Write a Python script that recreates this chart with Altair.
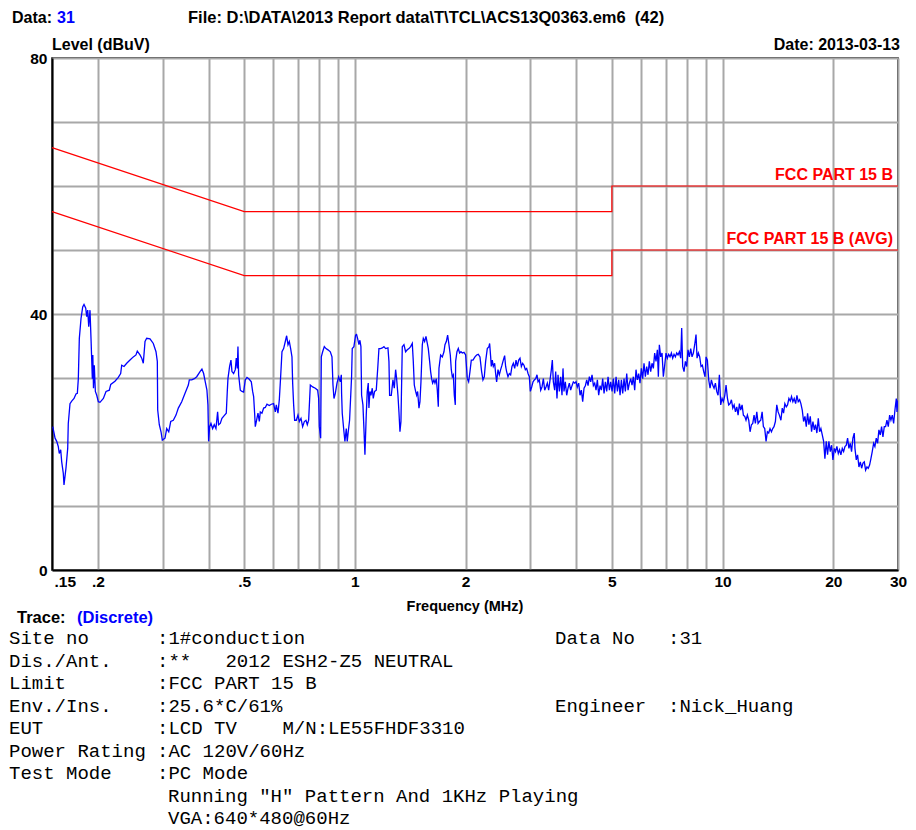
import altair as alt
import pandas as pd

# ---------------- data ----------------
FREQ_MHZ = [
    0.1507, 0.1529, 0.1545, 0.1560, 0.1570, 0.1584, 0.1594, 0.1610, 0.1617, 0.1627,
    0.1637, 0.1655, 0.1661, 0.1679, 0.1697, 0.1722, 0.1743, 0.1758, 0.1769, 0.1780,
    0.1799, 0.1818, 0.1833, 0.1853, 0.1864, 0.1876, 0.1888, 0.1903, 0.1915, 0.1931,
    0.1937, 0.1945, 0.1955, 0.1968, 0.1985, 0.2005, 0.2026, 0.2069, 0.2104, 0.2148,
    0.2167, 0.2225, 0.2272, 0.2306, 0.2321, 0.2355, 0.2395, 0.2445, 0.2496, 0.2538,
    0.2559, 0.2603, 0.2631, 0.2657, 0.2686, 0.2714, 0.2771, 0.2829, 0.2877, 0.2901,
    0.2908, 0.2937, 0.2969, 0.2993, 0.3044, 0.3077, 0.3116, 0.3155, 0.3207, 0.3261,
    0.3309, 0.3380, 0.3451, 0.3523, 0.3545, 0.3599, 0.3658, 0.3713, 0.3791,
    0.3836, 0.3877, 0.3917, 0.3958, 0.3983, 0.4000, 0.4025, 0.4059, 0.4102, 0.4144,
    0.4188, 0.4232, 0.4258, 0.4303, 0.4348, 0.4422, 0.4468, 0.4496, 0.4515, 0.4562,
    0.4601, 0.4630, 0.4678, 0.4727, 0.4757, 0.4787, 0.4807, 0.4827, 0.4878, 0.4929,
    0.4980, 0.5033, 0.5086, 0.5160, 0.5226, 0.5270, 0.5303, 0.5336, 0.5358, 0.5403,
    0.5449, 0.5495, 0.5529, 0.5587, 0.5646, 0.5705, 0.5765, 0.5850, 0.5923, 0.6010,
    0.6074, 0.6112, 0.6176, 0.6228, 0.6280, 0.6333, 0.6399, 0.6466, 0.6521, 0.6576,
    0.6631, 0.6686, 0.6742, 0.6771, 0.6813, 0.6856, 0.6928, 0.7001, 0.7060, 0.7134,
    0.7208, 0.7284, 0.7360, 0.7422, 0.7484, 0.7563, 0.7674, 0.7804, 0.7918, 0.7968,
    0.8002, 0.8069, 0.8102, 0.8170, 0.8256, 0.8343, 0.8448, 0.8572, 0.8662, 0.8716,
    0.8771, 0.8845, 0.8938, 0.9031, 0.9126, 0.9183,
    0.9199, 0.9237, 0.9335, 0.9393, 0.9472, 0.9531, 0.9591, 0.9671, 0.9732, 0.9793,
    0.9834, 0.9937, 1.0042, 1.0105, 1.0168, 1.0254, 1.0318, 1.0383, 1.0427, 1.0514,
    1.0580, 1.0647, 1.0735, 1.0803, 1.0871, 1.0917, 1.0986, 1.1055, 1.1147, 1.1217,
    1.1312, 1.1430, 1.1550, 1.1623, 1.1745, 1.1868, 1.1993, 1.2119, 1.2298, 1.2375,
    1.2427, 1.2557, 1.2689, 1.2796, 1.2903, 1.2984, 1.3093, 1.3175, 1.3258, 1.3341,
    1.3453, 1.3594, 1.3737, 1.3881, 1.4027, 1.4174, 1.4323, 1.4413, 1.4504, 1.4625,
    1.4717, 1.4810, 1.4934, 1.5028, 1.5123, 1.5250, 1.5345, 1.5474, 1.5604, 1.5735,
    1.5834, 1.5967, 1.6066, 1.6167, 1.6269, 1.6405, 1.6509, 1.6647, 1.6752, 1.6857,
    1.6928, 1.7105, 1.7285, 1.7466, 1.7576, 1.7724, 1.7872, 1.8022, 1.8173, 1.8287,
    1.8402, 1.8518, 1.8634, 1.8751, 1.8790, 1.8948, 1.9107, 1.9267, 1.9429, 1.9592,
    1.9797, 2.0005, 2.0215, 2.0384, 2.0555, 2.0727, 2.0945, 2.1209, 2.1431, 2.1656,
    2.1883, 2.2112, 2.2297, 2.2484, 2.2673, 2.2910, 2.3151,
    2.325, 2.340, 2.349, 2.364, 2.379, 2.399, 2.414, 2.429, 2.450, 2.470,
    2.491, 2.512, 2.533, 2.554, 2.570, 2.586, 2.608, 2.630, 2.652, 2.674,
    2.697, 2.720, 2.743, 2.765, 2.789, 2.812, 2.836, 2.859, 2.883, 2.908,
    2.932, 2.957, 2.981, 3.000, 3.025, 3.051, 3.076, 3.102, 3.128, 3.148,
    3.174, 3.201, 3.227, 3.255, 3.282, 3.309, 3.337, 3.365, 3.394, 3.422,
    3.443, 3.465, 3.494, 3.516, 3.545, 3.568, 3.598, 3.628, 3.658, 3.681,
    3.704, 3.735, 3.767, 3.798, 3.830, 3.862, 3.895, 3.927, 3.960, 3.994,
    4.027, 4.061, 4.095, 4.129, 4.164, 4.199, 4.234, 4.270, 4.306, 4.342,
    4.378, 4.415, 4.452, 4.489, 4.527, 4.565, 4.603, 4.642, 4.681, 4.720,
    4.760, 4.800, 4.840, 4.881, 4.922, 4.963, 5.005, 5.047, 5.089, 5.132,
    5.175, 5.218, 5.262, 5.306, 5.350, 5.395, 5.440, 5.486, 5.532,
    5.578, 5.624, 5.671, 5.719, 5.767, 5.815, 5.864, 5.913, 5.962, 6.013,
    6.063, 6.114, 6.165, 6.217, 6.269, 6.321, 6.374, 6.428, 6.482, 6.536,
    6.591, 6.647, 6.688, 6.730, 6.787, 6.844, 6.901, 6.959, 7.017, 7.076,
    7.135, 7.195, 7.256, 7.317, 7.378, 7.440, 7.502, 7.565, 7.629, 7.693,
    7.741, 7.789, 7.855, 7.921, 7.987, 8.054, 8.122, 8.190, 8.259, 8.328,
    8.398, 8.468, 8.522, 8.593, 8.665, 8.738, 8.812, 8.885, 8.960, 9.017,
    9.092, 9.169, 9.245, 9.323, 9.401, 9.480, 9.560, 9.640, 9.721, 9.802,
    9.884, 9.968, 10.05, 10.14, 10.22, 10.31, 10.39, 10.48, 10.57, 10.66,
    10.75, 10.84, 10.93, 11.02, 11.11, 11.20, 11.30, 11.39, 11.49, 11.58,
    11.68, 11.78, 11.88, 11.98, 12.08, 12.18, 12.28, 12.39, 12.49, 12.59,
    12.70, 12.81, 12.91, 13.02, 13.13, 13.24, 13.35, 13.46, 13.58, 13.69,
    13.80, 13.92, 14.04, 14.16, 14.27,
    14.41, 14.53, 14.65, 14.77, 14.90, 15.02, 15.15, 15.28, 15.40, 15.53,
    15.66, 15.80, 15.93, 16.06, 16.20, 16.33, 16.47, 16.61, 16.75, 16.89,
    17.03, 17.17, 17.32, 17.46, 17.61, 17.76, 17.90, 18.05, 18.21, 18.36,
    18.51, 18.67, 18.83, 18.98, 19.14, 19.30, 19.46, 19.63, 19.79, 19.96,
    20.13, 20.29, 20.46, 20.64, 20.81, 20.98, 21.16, 21.34, 21.52, 21.70,
    21.88, 22.06, 22.25, 22.43, 22.62, 22.81, 22.91, 23.10, 23.29, 23.49,
    23.69, 23.89, 24.09, 24.29, 24.49, 24.70, 24.90, 25.11, 25.32, 25.53,
    25.75, 25.96, 26.18, 26.40, 26.62, 26.85, 27.07, 27.30, 27.53, 27.76,
    27.99, 28.23, 28.47, 28.70, 28.95, 29.19, 29.43, 29.68, 29.81, 29.95,
]

LEVEL_DBUV = [
    22.4, 20.6, 20.1, 19.3, 18.2, 18.8, 16.9, 15.1, 13.3, 14.6,
    15.9, 19.0, 22.9, 26.0, 26.4, 26.8, 27.5, 27.6, 29.9, 36.2,
    39.3, 41.1, 41.5, 40.9, 39.6, 40.6, 38.0, 40.6, 36.2, 29.9,
    33.6, 28.4, 32.0, 27.9, 27.3, 26.3, 26.2, 26.8, 27.9, 28.1,
    29.0, 29.5, 30.1, 30.7, 32.0, 31.8, 32.3, 32.8, 33.3, 33.6,
    34.2, 33.6, 33.1, 32.3, 35.7, 36.2, 36.1, 35.4, 34.1, 32.6,
    25.0, 22.7, 21.6, 20.3, 20.6, 22.1, 21.6, 23.2, 23.4, 24.2,
    25.3, 26.3, 27.6, 28.9, 29.7, 29.7, 29.9, 30.2, 31.0,
    31.4, 30.7, 29.4, 28.1, 25.8, 20.1, 22.4, 22.9, 22.1, 22.7,
    22.1, 24.7, 22.7, 22.9, 23.7, 24.2, 24.5, 27.9, 29.9, 31.8,
    32.8, 31.0, 30.7, 31.3, 33.1, 31.5, 34.9, 30.5, 28.1, 27.9,
    27.8, 29.7, 30.1, 29.8, 29.4, 27.9, 27.1, 24.5, 22.4, 23.4,
    24.5, 23.2, 24.7, 24.5, 25.3, 25.4, 25.9, 25.7, 25.9, 26.0,
    24.7, 25.8, 24.5, 26.6, 30.2, 34.1, 34.6, 35.7, 36.6, 35.2,
    35.7, 34.6, 33.3, 29.2, 25.8, 23.4, 23.4, 24.2, 23.2, 23.7,
    22.4, 23.2, 23.4, 22.7, 23.4, 28.9, 28.6, 28.4, 28.1, 26.8,
    22.4, 20.6, 33.3, 34.1, 34.9, 34.6, 34.4, 34.1, 33.3, 28.9,
    26.8, 27.6, 29.2, 30.2, 29.4, 30.5,
    27.6, 24.5, 21.6, 20.1, 22.1, 20.1, 21.6, 23.4, 26.8, 30.2,
    34.6, 34.9, 36.7, 36.8, 36.2, 35.2, 35.9, 34.9, 27.3, 25.8,
    22.1, 18.0, 24.2, 27.9, 29.2, 25.3, 27.9, 27.3, 28.4, 26.8,
    27.9, 28.1, 32.0, 34.6, 34.6, 34.7, 34.9, 34.6, 34.7, 32.6,
    27.3, 27.3, 29.7, 28.4, 31.3, 29.9, 27.3, 24.7, 21.6, 23.2,
    34.9, 35.2, 34.1, 34.4, 34.6, 34.9, 35.4, 32.6, 28.9, 27.9,
    27.3, 27.9, 25.3, 26.3, 29.4, 35.2, 36.2, 35.7, 36.5, 35.4,
    34.6, 32.6, 31.0, 29.9, 29.2, 29.7, 29.2, 29.9, 28.1, 25.5,
    31.5, 33.6, 33.3, 34.1, 35.2, 35.7, 36.7, 35.2, 33.6, 31.3,
    30.2, 30.5, 27.3, 25.8, 32.6, 34.1, 34.6, 33.9, 34.1, 33.9,
    34.0, 33.6, 29.9, 29.4, 31.0, 32.8, 32.8, 33.3, 33.6, 33.7,
    33.3, 31.0, 29.7, 30.2, 32.6, 34.6, 34.9,
    35.4, 33.3, 31.8, 32.8, 31.8, 32.3, 30.7, 29.4, 31.3, 30.5,
    31.3, 32.0, 32.8, 33.5, 31.8, 31.0, 30.2, 30.7, 30.5, 31.8,
    32.3, 31.5, 32.8, 31.8, 32.8, 33.1, 31.8, 32.3, 32.0, 31.3,
    31.5, 30.7, 30.2, 27.9, 28.6, 29.4, 29.7, 29.9, 30.5, 29.4,
    29.7, 28.1, 28.6, 29.9, 28.1, 28.6, 29.2, 28.1, 29.7, 31.3,
    32.8, 29.4, 28.1, 31.0, 26.8, 30.5, 27.9, 30.2, 27.3, 31.5,
    27.9, 29.4, 27.3, 28.4, 29.2, 28.1, 28.8, 29.4, 29.2, 29.4,
    28.6, 29.2, 27.3, 28.1, 26.3, 28.4, 28.8, 29.7, 28.8, 30.2,
    29.4, 30.5, 28.8, 29.2, 28.1, 29.7, 27.3, 28.8, 28.1, 29.9,
    27.6, 29.4, 27.9, 30.2, 28.1, 29.4, 27.9, 29.9, 27.6, 30.2,
    27.9, 29.7, 27.3, 29.7, 27.6, 29.9, 27.9, 30.7, 28.1,
    29.2, 29.9, 28.9, 30.2, 28.1, 31.3, 29.7, 30.7, 29.2, 31.5,
    29.9, 32.3, 30.2, 31.8, 30.5, 32.6, 31.0, 32.3, 31.5, 33.9,
    32.6, 34.4, 30.2, 35.2, 33.3, 33.9, 30.2, 32.0, 33.9, 33.1,
    33.7, 33.3, 33.9, 33.1, 33.7, 33.3, 33.9, 33.6, 34.1, 33.1,
    37.8, 31.8, 31.0, 32.6, 31.8, 34.4, 33.3, 34.6, 33.3, 33.9,
    35.2, 36.8, 33.1, 33.9, 33.3, 31.8, 32.0, 31.0, 30.2, 33.3,
    32.8, 29.7, 28.4, 29.7, 28.9, 28.4, 29.2, 27.9, 27.3, 30.5,
    25.8, 26.8, 26.3, 27.3, 28.9, 26.8, 25.8, 26.0, 26.6, 25.3,
    25.8, 24.7, 25.5, 24.2, 26.0, 25.0, 25.8, 24.2, 24.0, 23.4,
    24.2, 23.4, 21.6, 22.7, 22.9, 24.2, 22.9, 24.7, 22.9, 23.2,
    23.4, 24.7, 22.4, 22.1, 20.1, 21.6, 21.4, 22.1, 21.6, 22.1,
    22.4, 23.2, 25.8, 24.7, 24.2,
    23.4, 25.3, 24.5, 26.0, 25.5, 25.8, 26.8, 26.4, 27.1, 26.3,
    26.8, 26.0, 27.3, 26.3, 26.6, 26.0, 25.0, 23.2, 24.0, 22.4,
    24.5, 22.7, 24.0, 21.6, 23.2, 21.9, 22.7, 21.4, 23.7, 21.6,
    22.1, 21.1, 20.1, 17.4, 20.1, 18.0, 20.1, 18.5, 19.5, 17.2,
    19.0, 18.5, 19.3, 18.2, 18.8, 18.0, 19.0, 18.5, 19.3, 19.5,
    20.6, 19.0, 19.8, 18.5, 20.6, 21.4, 19.0, 17.2, 18.0, 16.1,
    16.9, 15.9, 16.7, 16.9, 15.6, 16.1, 15.9, 16.4, 17.4, 18.5,
    19.8, 19.3, 20.6, 19.8, 21.9, 21.1, 22.4, 20.8, 22.4, 22.4,
    23.4, 22.4, 24.2, 23.4, 24.2, 22.9, 25.0, 26.8, 24.7, 26.5,
]

LIMIT_FREQ = [0.15, 0.5, 5, 5, 30]
LIMIT_QP = [66, 56, 56, 60, 60]
LIMIT_AVG = [56, 46, 46, 50, 50]
LIMIT_NAMES = ["FCC PART 15 B", "FCC PART 15 B (AVG)"]

X_GRID = [0.15, 0.2, 0.3, 0.4, 0.5, 0.6, 0.7, 0.8, 0.9,
          1, 2, 3, 4, 5, 6, 7, 8, 9, 10, 20, 30]
X_LABELS = [0.15, 0.2, 0.5, 1, 2, 5, 10, 20, 30]
Y_GRID = [0, 10, 20, 30, 40, 50, 60, 70, 80]
Y_LABELS = [0, 40, 80]

HEADER_DATA_LABEL = "Data:"
HEADER_DATA_NO = "31"
HEADER_FILE = "File: D:\\DATA\\2013 Report data\\T\\TCL\\ACS13Q0363.em6  (42)"
HEADER_DATE = "Date: 2013-03-13"
Y_TITLE = "Level (dBuV)"
X_TITLE = "Frequency (MHz)"
TRACE_LABEL = "Trace:"
TRACE_NAME = "(Discrete)"

INFO_LABELS = ["Site no", "Dis./Ant.", "Limit", "Env./Ins.", "EUT",
               "Power Rating", "Test Mode"]
INFO_VALUES = [":1#conduction", ":**   2012 ESH2-Z5 NEUTRAL", ":FCC PART 15 B",
               ":25.6*C/61%", ":LCD TV    M/N:LE55FHDF3310", ":AC 120V/60Hz",
               ":PC Mode"]
INFO_MORE = ["Running \"H\" Pattern And 1KHz Playing", "VGA:640*480@60Hz"]
INFO_RIGHT_LABELS = ["Data No", "Engineer"]
INFO_RIGHT_VALUES = [":31", ":Nick_Huang"]
INFO_RIGHT_ROWS = [0, 3]

# ---------------- styling ----------------
SANS = "Liberation Sans, Arial, sans-serif"
MONO = "Liberation Mono, Courier New, monospace"
NB = "\u00a0"


def keep_spaces(s):
    return s.replace(" ", NB)


trace_df = pd.DataFrame({"f": FREQ_MHZ, "lvl": LEVEL_DBUV,
                         "i": list(range(len(FREQ_MHZ)))})

limit_rows = []
for name, vals in zip(LIMIT_NAMES, [LIMIT_QP, LIMIT_AVG]):
    for j, (f, v) in enumerate(zip(LIMIT_FREQ, vals)):
        limit_rows.append({"name": name, "f": f, "lvl": v, "i": j})
limit_df = pd.DataFrame(limit_rows)
limit_lab_df = pd.DataFrame({"name": LIMIT_NAMES,
                             "f": [LIMIT_FREQ[-1], LIMIT_FREQ[-1]],
                             "lvl": [LIMIT_QP[-1], LIMIT_AVG[-1]]})

x_label_expr = (
    f"indexof({X_LABELS}, datum.value) >= 0 ? "
    "(datum.value < 1 ? slice(format(datum.value, '~g'), 1) : format(datum.value, '~g')) : ''"
)
y_label_expr = f"indexof({Y_LABELS}, datum.value) >= 0 ? format(datum.value, 'd') : ''"

x_scale = alt.Scale(type="log", domain=[0.15, 30], nice=False)
y_scale = alt.Scale(domain=[0, 80], nice=False, zero=False)

x_axis = alt.Axis(
    values=X_GRID, grid=True, gridColor="#a8a8a8", gridWidth=2, gridOpacity=1,
    ticks=False, domain=True, domainColor="#000000", domainWidth=2,
    labelExpr=x_label_expr, labelFont=SANS, labelFontSize=15.5, labelFontWeight="bold",
    labelColor="#000000", labelPadding=4, labelOverlap=False, labelBound=False,
    labelFlush=False,
    labelAlign={"condition": {"test": f"datum.value <= {X_LABELS[0]}", "value": "left"},
                "value": "center"},
    labelOffset={"condition": {"test": f"datum.value <= {X_LABELS[0]}", "value": 2},
                 "value": 0},
    title=None,
)
y_axis = alt.Axis(
    values=Y_GRID, grid=True, gridColor="#a8a8a8", gridWidth=2, gridOpacity=1,
    ticks=False, domain=True, domainColor="#000000", domainWidth=2,
    labelExpr=y_label_expr, labelFont=SANS, labelFontSize=15.5, labelFontWeight="bold",
    labelColor="#000000", labelPadding=5, labelOverlap=False, labelBound=False,
    title=None,
)

trace = alt.Chart(trace_df).mark_line(color="#0000ff", strokeWidth=1.3, clip=True).encode(
    x=alt.X("f:Q", scale=x_scale, axis=x_axis),
    y=alt.Y("lvl:Q", scale=y_scale, axis=y_axis),
    order=alt.Order("i:Q"),
)

limits = alt.Chart(limit_df).mark_line(color="#ff0000", strokeWidth=1.2).encode(
    x=alt.X("f:Q", scale=x_scale),
    y=alt.Y("lvl:Q", scale=y_scale),
    detail="name:N",
    order=alt.Order("i:Q"),
)

limit_labels = alt.Chart(limit_lab_df).mark_text(
    align="right", baseline="bottom", dx=-5, dy=-3, color="#ff0000",
    font=SANS, fontSize=16, fontWeight="bold",
).encode(
    x=alt.X("f:Q", scale=x_scale),
    y=alt.Y("lvl:Q", scale=y_scale),
    text="name:N",
)


def txt(text, x, y, align="left", color="#000000", font=SANS, size=16,
        weight="bold", baseline="alphabetic"):
    return alt.Chart(alt.Data(values=[{"t": text}])).mark_text(
        align=align, baseline=baseline, color=color, font=font, fontSize=size,
        fontWeight=weight,
    ).encode(x=alt.value(x), y=alt.value(y), text="t:N")


layers = [trace, limits, limit_labels]
# header
layers.append(txt(HEADER_DATA_LABEL, -40, -35))
layers.append(txt(HEADER_DATA_NO, 5, -35, color="#0000ff"))
layers.append(txt(keep_spaces(HEADER_FILE), 136, -35, size=16.5))
layers.append(txt(Y_TITLE, 0, -8))
layers.append(txt(HEADER_DATE, 848, -8, align="right"))
# x title and trace name
layers.append(txt(X_TITLE, 413, 553, align="center", size=14.5))
layers.append(txt(TRACE_LABEL, -35, 565, size=16.5))
layers.append(txt(TRACE_NAME, 25, 565, color="#0000ff", size=16.5))

# info block (monospace), one text mark per line
ROW0 = 586
ROW_H = 22.5
mono = dict(font=MONO, size=19, weight="normal")
for r, (lab, val) in enumerate(zip(INFO_LABELS, INFO_VALUES)):
    layers.append(txt(keep_spaces(lab), -43, ROW0 + r * ROW_H, **mono))
    layers.append(txt(keep_spaces(val), 105, ROW0 + r * ROW_H, **mono))
for k, line in enumerate(INFO_MORE):
    r = len(INFO_LABELS) + k
    layers.append(txt(keep_spaces(line), 116, ROW0 + r * ROW_H, **mono))
for lab, val, r in zip(INFO_RIGHT_LABELS, INFO_RIGHT_VALUES, INFO_RIGHT_ROWS):
    layers.append(txt(keep_spaces(lab), 503, ROW0 + r * ROW_H, **mono))
    layers.append(txt(keep_spaces(val), 616, ROW0 + r * ROW_H, **mono))

chart = alt.layer(*layers).properties(
    width=846, height=512,
    padding={"left": 44, "top": 50, "right": 10, "bottom": 259},
    autosize=alt.AutoSizeParams(type="none"),
    background="#ffffff",
).configure_view(stroke="#000000", strokeWidth=1.5)

chart.save("out.html", embed_options={"renderer": "svg", "actions": False})
